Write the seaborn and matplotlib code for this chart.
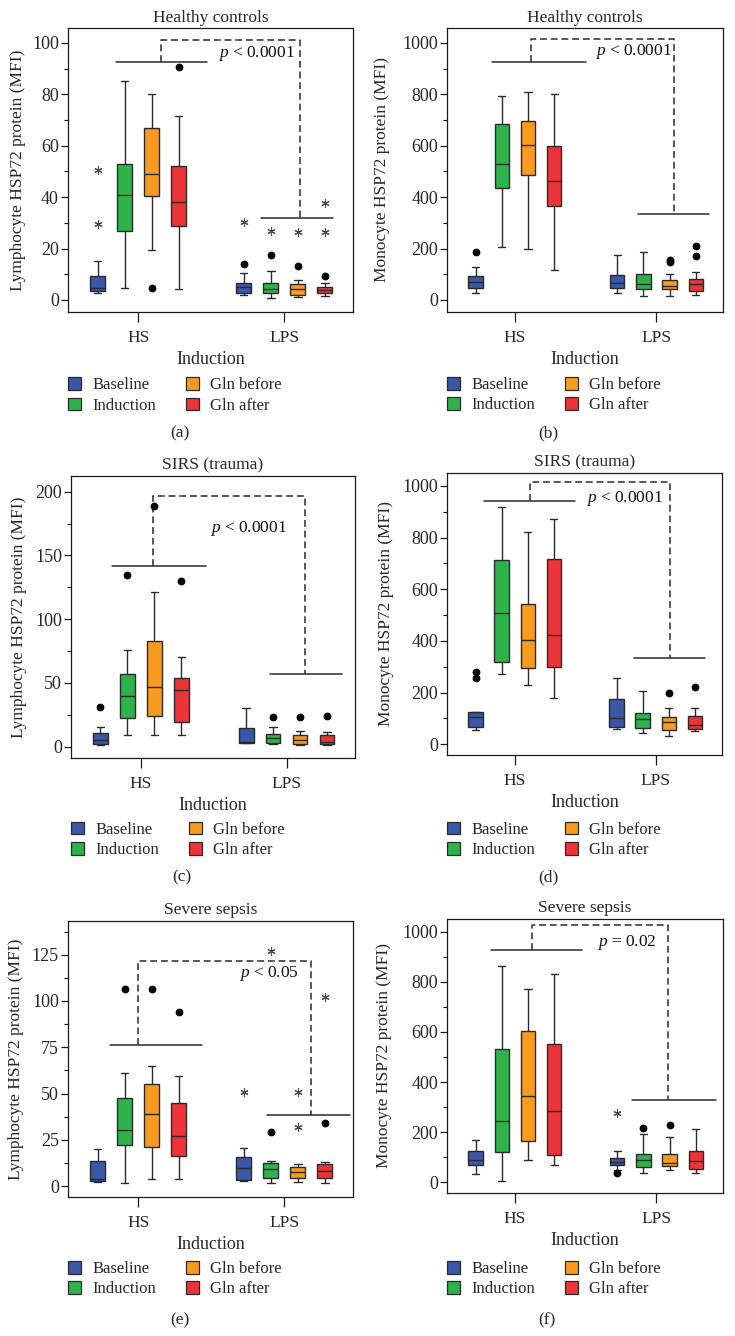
import numpy as np
import pandas as pd
import matplotlib
matplotlib.use("Agg")
import matplotlib.pyplot as plt
from matplotlib.patches import Patch
from matplotlib.ticker import MultipleLocator
import seaborn as sns

# ---------------- data ----------------
groups = ["HS", "LPS"]
conditions = ["Baseline", "Induction", "Gln before", "Gln after"]
palette = ["#3A57A8", "#2EB34B", "#F89B1F", "#EC3338"]

# five-number summaries per box: [lower whisker, Q1, median, Q3, upper whisker]
a_hs = [[2.6, 3.3, 4.8, 9.4, 15.0], [4.5, 26.7, 40.8, 52.7, 85.3],
        [19.3, 40.5, 49.0, 67.0, 80.0], [4.3, 28.6, 38.2, 52.0, 71.6]]
a_lps = [[2.0, 2.6, 5.2, 6.5, 10.4], [0.9, 2.5, 4.2, 6.5, 11.3],
         [1.0, 2.0, 4.3, 6.1, 7.8], [1.7, 2.6, 3.9, 5.0, 6.5]]
a_dots = [("HS", "Gln before", 4.6), ("HS", "Gln after", 90.8),
          ("LPS", "Baseline", 14.0), ("LPS", "Induction", 17.3),
          ("LPS", "Gln before", 13.3), ("LPS", "Gln after", 9.5)]
a_stars = [("HS", "Baseline", 50.5), ("HS", "Baseline", 29.7),
           ("LPS", "Baseline", 30.2), ("LPS", "Induction", 27.0),
           ("LPS", "Gln before", 26.4), ("LPS", "Gln after", 37.8),
           ("LPS", "Gln after", 26.4)]

b_hs = [[29, 46, 70, 92, 129], [207, 435, 528, 683, 793],
        [200, 485, 602, 698, 810], [118, 367, 462, 598, 803]]
b_lps = [[29, 46, 65, 97, 176], [17, 41, 61, 102, 186],
         [14, 42, 55, 78, 103], [20, 36, 64, 82, 110]]
b_dots = [("HS", "Baseline", 185), ("LPS", "Gln before", 156),
          ("LPS", "Gln before", 149), ("LPS", "Gln after", 210),
          ("LPS", "Gln after", 172)]
b_stars = []

c_hs = [[1.2, 2.0, 5.1, 10.4, 15.0], [9, 22, 40, 57, 76],
        [9, 24, 47, 83, 121], [9, 19, 44, 54, 70]]
c_lps = [[2.5, 3.0, 3.5, 14.8, 30.0], [2.0, 2.5, 6.4, 10.0, 15.0],
         [1.5, 1.7, 5.0, 9.3, 12.4], [1.5, 2.0, 3.8, 9.3, 11.4]]
c_dots = [("HS", "Baseline", 31), ("HS", "Induction", 135),
          ("HS", "Gln before", 189), ("HS", "Gln after", 130),
          ("LPS", "Induction", 23), ("LPS", "Gln before", 23.5),
          ("LPS", "Gln after", 24)]
c_stars = []

d_hs = [[56, 67, 104, 123, 123], [270, 320, 508, 712, 918],
        [228, 293, 403, 543, 822], [178, 297, 422, 716, 870]]
d_lps = [[60, 68, 102, 175, 258], [44, 62, 96, 121, 205],
         [32, 56, 87, 105, 140], [51, 60, 74, 108, 140]]
d_dots = [("HS", "Baseline", 280), ("HS", "Baseline", 258),
          ("LPS", "Gln before", 197), ("LPS", "Gln after", 223)]
d_stars = []

e_hs = [[2.0, 2.8, 3.6, 13.5, 20.2], [1.8, 22.2, 30.3, 47.7, 61.0],
        [3.6, 20.9, 38.8, 55.0, 65.0], [3.6, 16.2, 27.0, 44.7, 59.5]]
e_lps = [[3.0, 3.2, 9.6, 15.5, 20.4], [1.8, 4.1, 9.4, 12.3, 13.7],
         [2.3, 4.1, 7.8, 10.5, 12.1], [1.8, 4.1, 8.1, 12.1, 12.8]]
e_dots = [("HS", "Induction", 106.5), ("HS", "Gln before", 106.5),
          ("HS", "Gln after", 94.0), ("LPS", "Induction", 29.4),
          ("LPS", "Gln after", 33.9)]
e_stars = [("LPS", "Baseline", 51.0), ("LPS", "Induction", 127.0),
           ("LPS", "Gln before", 51.0), ("LPS", "Gln before", 32.0),
           ("LPS", "Gln after", 102.0)]

f_hs = [[34, 71, 88, 125, 168], [7, 121, 244, 530, 862],
        [88, 165, 344, 604, 772], [69, 111, 285, 553, 829]]
f_lps = [[50, 68, 83, 96, 127], [37, 61, 91, 114, 195],
         [50, 66, 76, 114, 180], [37, 54, 87, 124, 212]]
f_dots = [("LPS", "Baseline", 36), ("LPS", "Induction", 217),
          ("LPS", "Gln before", 228)]
f_stars = [("LPS", "Baseline", 275)]

titles = ["Healthy controls", "Healthy controls", "SIRS (trauma)",
          "SIRS (trauma)", "Severe sepsis", "Severe sepsis"]
ylabels = ["Lymphocyte HSP72 protein (MFI)", "Monocyte HSP72 protein (MFI)"] * 3
p_texts = [r"$p$ < 0.0001", r"$p$ < 0.0001", r"$p$ < 0.0001",
           r"$p$ < 0.0001", r"$p$ < 0.05", r"$p$ = 0.02"]
panel_tags = ["(a)", "(b)", "(c)", "(d)", "(e)", "(f)"]

# ---------------- style ----------------
sns.set_style("ticks")
plt.rcParams["font.family"] = ["Liberation Serif", "DejaVu Serif"]
plt.rcParams["mathtext.fontset"] = "custom"
plt.rcParams["mathtext.it"] = "Liberation Serif:italic"
plt.rcParams["mathtext.rm"] = "Liberation Serif"
plt.rcParams["axes.edgecolor"] = "#1a1a1a"
plt.rcParams["axes.linewidth"] = 0.9

W, H = 735, 1336
fig = plt.figure(figsize=(W / 100, H / 100), dpi=100)
fig.patch.set_facecolor("white")

EDGE = "#2a2a2a"
BOX_W = 0.74
GAP = 0.45
FS = 12.5

# layout (pixels): axes rect (left, top, right, bottom), y-limits, ticks, annotations
layout = [
    dict(rect=(68, 28, 353, 312), ylim=(-4.7, 105.8), major=20, minor=10,
         hs_line=(-0.15, 0.47, 92.7), lps_line=(0.838, 1.331, 31.9),
         dash=(0.155, 101.2, 1.108), ptxt=(1.074, 95.7), leg=385.7, tag=(180, 433), ylx=-50),
    dict(rect=(447, 28, 723, 312), ylim=(-46.7, 1058), major=200, minor=100,
         hs_line=(-0.16, 0.50, 925), lps_line=(0.867, 1.37, 335),
         dash=(0.11, 1017, 1.126), ptxt=(1.11, 965), leg=385.3, tag=(548, 433), ylx=-65),
    dict(rect=(71, 476, 355, 758), ylim=(-9, 212.3), major=50, minor=25,
         hs_line=(-0.2, 0.445, 142), lps_line=(0.884, 1.38, 57),
         dash=(0.08, 196.6, 1.128), ptxt=(1.0, 171), leg=830, tag=(182, 877), ylx=-52),
    dict(rect=(447, 473, 722, 755), ylim=(-42, 1050), major=200, minor=100,
         hs_line=(-0.22, 0.43, 940), lps_line=(0.845, 1.35, 335),
         dash=(0.11, 1015, 1.10), ptxt=(1.05, 952), leg=830, tag=(548, 877), ylx=-61),
    dict(rect=(68, 921, 353, 1197), ylim=(-5.9, 143.2), major=25, minor=12.5,
         hs_line=(-0.195, 0.437, 76), lps_line=(0.88, 1.45, 38.2),
         dash=(0.0, 121.5, 1.184), ptxt=(1.103, 115), leg=1269.3, tag=(180, 1320), ylx=-52),
    dict(rect=(447, 919, 723, 1193), ylim=(-42, 1050), major=200, minor=100,
         hs_line=(-0.17, 0.477, 925), lps_line=(0.83, 1.42, 330),
         dash=(0.118, 1025, 1.08), ptxt=(1.0, 955), leg=1269.3, tag=(547, 1320), ylx=-63),
]

boxes_hs = [a_hs, b_hs, c_hs, d_hs, e_hs, f_hs]
boxes_lps = [a_lps, b_lps, c_lps, d_lps, e_lps, f_lps]
dots_all = [a_dots, b_dots, c_dots, d_dots, e_dots, f_dots]
stars_all = [a_stars, b_stars, c_stars, d_stars, e_stars, f_stars]


def xpos(g, c):
    return groups.index(g) + (conditions.index(c) - 1.5) * BOX_W / len(conditions)


for i, L in enumerate(layout):
    l, t, r, b = L["rect"]
    ax = fig.add_axes([l / W, 1 - b / H, (r - l) / W, (b - t) / H])
    hpx = b - t

    rows = [(g, c, v)
            for g, bx in zip(groups, (boxes_hs[i], boxes_lps[i]))
            for c, vals in zip(conditions, bx)
            for v in vals]
    df = pd.DataFrame(rows, columns=["Induction", "Condition", "MFI"])
    sns.boxplot(data=df, x="Induction", y="MFI", hue="Condition",
                order=groups, hue_order=conditions, palette=palette,
                saturation=1, width=BOX_W, gap=GAP, whis=(0, 100),
                showfliers=False, linewidth=1.0, linecolor=EDGE,
                legend=False, ax=ax)

    if dots_all[i]:
        ax.plot([xpos(g, c) for g, c, v in dots_all[i]],
                [v for g, c, v in dots_all[i]], "o", ms=4.6,
                color="black", zorder=6, clip_on=False)
    if stars_all[i]:
        ax.plot([xpos(g, c) for g, c, v in stars_all[i]],
                [v for g, c, v in stars_all[i]], ls="none",
                marker=(6, 2, 0), ms=5.8, mew=0.8, color="#4a4a4a", zorder=6)

    # significance brackets
    hx0, hx1, hy = L["hs_line"]
    lx0, lx1, ly = L["lps_line"]
    dx0, dtop, dx1 = L["dash"]
    ax.plot([hx0, hx1], [hy, hy], color=EDGE, lw=1.1)
    ax.plot([lx0, lx1], [ly, ly], color=EDGE, lw=1.1)
    ax.plot([dx0, dx0, dx1, dx1], [hy, dtop, dtop, ly], color=EDGE,
            lw=1.1, ls=(0, (4.5, 2.5)))
    ax.text(L["ptxt"][0], L["ptxt"][1], p_texts[i], ha="right", va="center",
            fontsize=FS, color="#111111")

    ax.set_xlim(-0.48, 1.47)
    ax.set_ylim(*L["ylim"])
    ax.yaxis.set_major_locator(MultipleLocator(L["major"]))
    ax.yaxis.set_minor_locator(MultipleLocator(L["minor"]))
    ax.tick_params(axis="y", which="major", length=5, width=0.9, pad=1.5,
                   labelsize=13, color="#1a1a1a")
    ax.tick_params(axis="y", which="minor", length=2.8, width=0.8,
                   color="#1a1a1a")
    ax.tick_params(axis="x", which="major", length=7, width=0.9, pad=6,
                   labelsize=FS, color="#1a1a1a")
    for s in ax.spines.values():
        s.set_visible(True)

    ax.set_xlabel("Induction", fontsize=13)
    ax.xaxis.set_label_coords(0.5, -47.5 / hpx)
    ax.xaxis.label.set_verticalalignment("center")
    ax.set_ylabel(ylabels[i], fontsize=FS)
    ax.yaxis.set_label_coords(L["ylx"] / (r - l), 0.5)
    ax.yaxis.label.set_verticalalignment("center")

    ax.text(0.5, 1 + 10.5 / hpx, titles[i], transform=ax.transAxes,
            ha="center", va="center", fontsize=FS)

    handles = [Patch(facecolor=c, edgecolor=EDGE, linewidth=0.9) for c in palette]
    ax.legend(handles, conditions, ncol=2, loc="upper left",
              bbox_to_anchor=(l / W, 1 - (L["leg"] - 8.5) / H),
              bbox_transform=fig.transFigure, frameon=False, borderpad=0,
              borderaxespad=0, handlelength=0.8, handleheight=0.8,
              handletextpad=0.65, columnspacing=1.8, labelspacing=0.25,
              fontsize=12)

    fig.text(L["tag"][0] / W, 1 - L["tag"][1] / H, panel_tags[i],
             ha="center", va="center", fontsize=FS)

fig.savefig("out.png", dpi=100, facecolor="white")
